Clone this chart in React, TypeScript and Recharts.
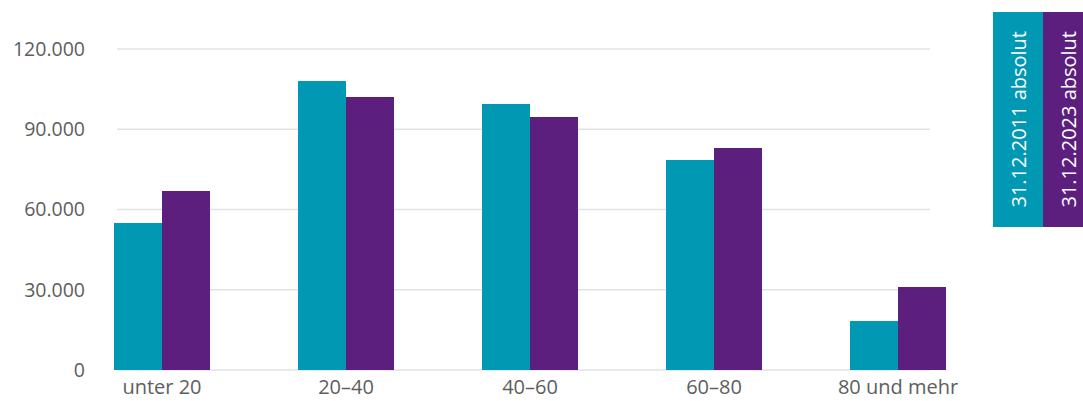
import React from 'react';
import { BarChart, Bar, XAxis, YAxis, CartesianGrid } from 'recharts';

// Altersgruppen und Werte
const AGE_GROUPS = ['unter 20', '20–40', '40–60', '60–80', '80 und mehr'];
const VALUES_2011 = [55000, 108000, 99400, 78500, 18300];
const VALUES_2023 = [66900, 102100, 94600, 83000, 31000];
const Y_TICKS = [0, 30000, 60000, 90000, 120000];

const SERIES = [
  { key: 'v2011', name: '31.12.2011 absolut', color: '#0098b3' },
  { key: 'v2023', name: '31.12.2023 absolut', color: '#5d1f7e' },
];

const FONT = '"Open Sans", "DejaVu Sans", sans-serif';
const TEXT_COLOR = '#5e5e5e';

const data = AGE_GROUPS.map((group, i) => ({
  group,
  v2011: VALUES_2011[i],
  v2023: VALUES_2023[i],
}));

// 120000 -> "120.000"
const formatThousands = (value: number) =>
  String(value).replace(/\B(?=(\d{3})+(?!\d))/g, '.');

// Legend as vertical coloured boxes with rotated labels
const VerticalLegend = () => (
  <div style={{ position: 'absolute', left: 993, top: 12, display: 'flex' }}>
    {SERIES.map((s) => (
      <div
        key={s.key}
        style={{
          width: 50,
          height: 215,
          background: s.color,
          display: 'flex',
          alignItems: 'center',
          justifyContent: 'center',
        }}
      >
        <span
          style={{
            writingMode: 'vertical-rl',
            transform: 'rotate(180deg)',
            color: '#ffffff',
            fontFamily: FONT,
            fontSize: 20,
            whiteSpace: 'nowrap',
          }}
        >
          {s.name}
        </span>
      </div>
    ))}
  </div>
);

export default function App() {
  return (
    <div
      style={{
        position: 'absolute',
        left: 0,
        top: 0,
        width: 1083,
        height: 401,
        overflow: 'hidden',
        background: '#ffffff',
      }}
    >
      <BarChart
        width={1083}
        height={401}
        data={data}
        margin={{ top: 49, right: 153, bottom: 1, left: 0 }}
        barGap={0}
      >
        <CartesianGrid vertical={false} stroke="#e2e2e2" strokeWidth={1.5} />
        <XAxis
          dataKey="group"
          axisLine={false}
          tickLine={false}
          tickSize={0}
          tickMargin={10}
          height={30}
          interval={0}
          padding={{ left: -47, right: -60 }}
          tick={{ fill: TEXT_COLOR, fontSize: 20, fontFamily: FONT }}
        />
        <YAxis
          width={117}
          domain={[0, 120000]}
          ticks={Y_TICKS}
          axisLine={false}
          tickLine={false}
          tickSize={0}
          tickMargin={32}
          tickFormatter={formatThousands}
          tick={{ fill: TEXT_COLOR, fontSize: 19.5, fontFamily: FONT }}
        />
        {SERIES.map((s) => (
          <Bar
            key={s.key}
            dataKey={s.key}
            name={s.name}
            fill={s.color}
            barSize={48}
            isAnimationActive={false}
          />
        ))}
      </BarChart>
      <VerticalLegend />
    </div>
  );
}
